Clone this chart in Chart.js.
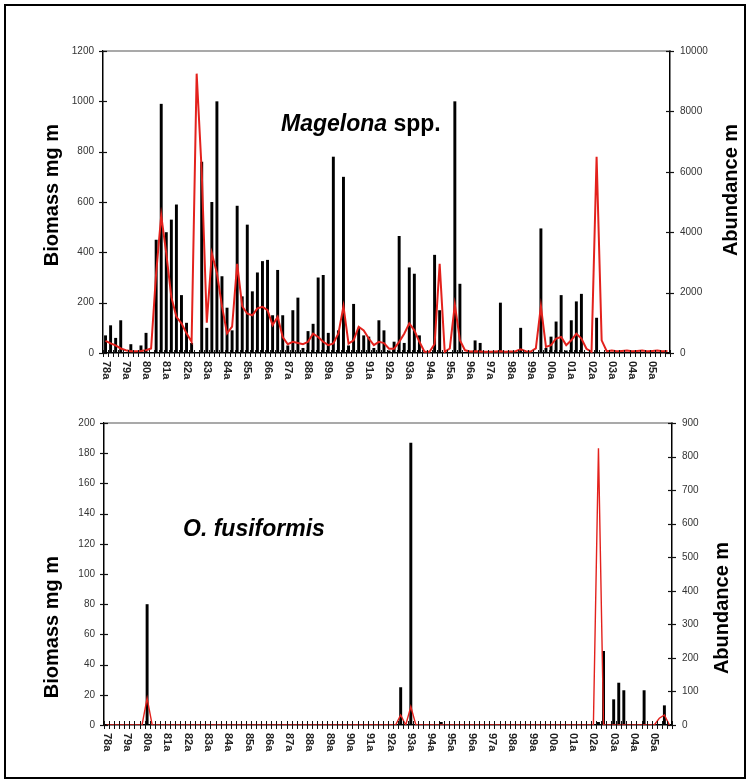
<!DOCTYPE html>
<html><head><meta charset="utf-8">
<script src="https://cdn.jsdelivr.net/npm/chart.js@4.4.0/dist/chart.umd.min.js"></script>
<style>
html,body{margin:0;padding:0;background:#fff;}
#wrap{position:relative;width:750px;height:782px;overflow:hidden;}
#frame{position:absolute;left:4px;top:4px;width:742px;height:775px;border:2px solid #000;box-sizing:border-box;pointer-events:none;}
.box{position:absolute;left:0;width:750px;}
#b1{top:0;height:395px;}
#b2{top:395px;height:387px;}
</style></head>
<body><div id="wrap">
<div class="box" id="b1"><canvas id="c1"></canvas></div>
<div class="box" id="b2"><canvas id="c2"></canvas></div>
<div id="frame"></div>
</div>
<script>
const years = ['78','79','80','81','82','83','84','85','86','87','88','89','90','91','92','93','94','95','96','97','98','99','00','01','02','03','04','05'];
const seasons = ['a','b','c','d'];
const sampleLabels = years.flatMap(y => seasons.map(s => y + s));

const magelonaBiomass = [
  70,110,60,130,0,35,0,30,80,0,
  450,990,480,530,590,230,120,40,0,760,
  100,600,1000,305,180,90,585,225,510,245,
  320,365,370,150,330,150,30,170,220,20,
  87,116,300,310,80,780,90,700,30,195,
  100,70,65,20,130,90,10,45,465,40,
  340,315,70,0,0,390,170,0,0,1000,
  275,0,0,50,40,0,0,0,200,0,
  0,0,100,0,0,0,495,20,65,125,
  230,10,130,205,235,0,0,140,0,0,
  0,0,0,0,0,0,0,0,0,0,
  0,0
];
const magelonaAbundance = [
  400,320,250,150,90,60,55,65,90,150,
  2650,4550,3300,1850,1200,980,650,370,9250,6000,
  1000,3300,2650,1550,650,870,2950,1550,1300,1250,
  1480,1530,1420,920,1200,530,290,370,330,290,
  370,640,530,370,260,320,650,1550,310,420,
  870,750,480,260,370,330,140,140,370,640,
  980,750,370,40,40,300,2950,40,150,1600,
  420,90,50,60,50,40,40,50,60,40,
  50,60,120,60,50,150,1550,200,260,480,
  530,260,420,640,480,140,40,6500,420,60,
  80,60,70,80,60,70,80,60,70,80,
  60,70
];
const fusiformisBiomass = [
  0,0,0,0,0,0,0,0,80,0,
  0,0,0,0,0,0,0,0,0,0,
  0,0,0,0,0,0,0,0,0,0,
  0,0,0,0,0,0,0,0,0,0,
  0,0,0,0,0,0,0,0,0,0,
  0,0,0,0,0,0,0,0,25,0,
  187,0,0,0,0,0,2,0,0,0,
  0,0,0,0,0,0,0,0,0,0,
  0,0,0,0,0,0,0,0,0,0,
  0,0,0,0,0,0,0,2,49,0,
  17,28,23,0,0,0,23,0,0,0,
  13,0
];
const fusiformisAbundance = [
  0,0,0,0,0,0,0,0,80,0,
  0,0,0,0,0,0,0,0,0,0,
  0,0,0,0,0,0,0,0,0,0,
  0,0,0,0,0,0,0,0,0,0,
  0,0,0,0,0,0,0,0,0,0,
  0,0,0,0,0,0,0,0,30,0,
  55,0,0,0,0,0,0,0,0,0,
  0,0,0,0,0,0,0,0,0,0,
  0,0,0,0,0,0,0,0,0,0,
  0,0,0,0,0,0,0,825,0,0,
  0,0,0,0,0,0,0,0,0,20,
  30,0
];
const magBiomassTicks = {min:0, max:1200, step:200};
const magAbundTicks = {min:0, max:10000, step:2000};
const fusBiomassTicks = {min:0, max:200, step:20};
const fusAbundTicks = {min:0, max:900, step:100};

const FONT = '"Liberation Sans", Arial, sans-serif';

function deco(cfg) {
  return {
    id: 'deco_' + cfg.key,
    afterDraw(chart) {
      const {ctx, chartArea: ca, scales} = chart;
      const x = scales.x, yl = scales.y, yr = scales.y1;
      ctx.save();
      ctx.strokeStyle = '#8c8c8c'; ctx.lineWidth = 1.5;
      ctx.beginPath(); ctx.moveTo(ca.left, ca.top); ctx.lineTo(ca.right, ca.top); ctx.stroke();
      ctx.strokeStyle = '#111'; ctx.lineWidth = 1.2;
      yl.ticks.forEach(t => { const py = Math.round(yl.getPixelForValue(t.value)) + 0.5;
        ctx.beginPath(); ctx.moveTo(ca.left - 4, py); ctx.lineTo(ca.left + 4, py); ctx.stroke(); });
      yr.ticks.forEach(t => { const py = Math.round(yr.getPixelForValue(t.value)) + 0.5;
        ctx.beginPath(); ctx.moveTo(ca.right - 4, py); ctx.lineTo(ca.right + 4, py); ctx.stroke(); });
      const n = chart.data.labels.length;
      const step = x.getPixelForValue(1) - x.getPixelForValue(0);
      ctx.lineWidth = 1;
      for (let i = 0; i <= n; i++) {
        const px = Math.round(x.getPixelForValue(0) - step / 2 + i * step) + 0.5;
        ctx.beginPath(); ctx.moveTo(px, ca.bottom - cfg.tickUp); ctx.lineTo(px, ca.bottom + 4); ctx.stroke();
      }
      ctx.fillStyle = '#222'; ctx.font = 'bold 11px ' + FONT;
      ctx.textAlign = 'left'; ctx.textBaseline = 'middle';
      chart.data.labels.forEach((lab, i) => {
        if (i % 4) return;
        const px = x.getPixelForValue(i);
        ctx.save(); ctx.translate(px, ca.bottom + 8); ctx.rotate(Math.PI / 2);
        ctx.fillText(lab, 0, 0); ctx.restore();
      });
      ctx.fillStyle = '#000'; ctx.font = 'bold 20px ' + FONT;
      ctx.textAlign = 'center'; ctx.textBaseline = 'middle';
      ctx.save(); ctx.translate(cfg.leftTitle[0], cfg.leftTitle[1]); ctx.rotate(-Math.PI / 2);
      ctx.fillText('Biomass mg m', 0, 0); ctx.restore();
      ctx.save(); ctx.translate(cfg.rightTitle[0], cfg.rightTitle[1]); ctx.rotate(-Math.PI / 2);
      ctx.fillText('Abundance m', 0, 0); ctx.restore();
      ctx.textAlign = 'left'; ctx.textBaseline = 'alphabetic';
      let tx = cfg.species.x;
      cfg.species.parts.forEach(p => {
        ctx.font = p.font + ' ' + cfg.species.size + 'px ' + FONT;
        ctx.fillText(p.text, tx, cfg.species.y);
        tx += ctx.measureText(p.text).width;
      });
      ctx.restore();
    }
  };
}

function makeChart(canvasId, biomass, abund, bt, at, geo, lineW, decoCfg) {
  const tickFont = { family: FONT, size: 10 };
  return new Chart(document.getElementById(canvasId), {
    data: {
      labels: sampleLabels,
      datasets: [
        { type: 'line', label: 'Abundance', data: abund, yAxisID: 'y1', order: 0,
          borderColor: '#e3211c', borderWidth: lineW, pointRadius: 0, tension: 0, fill: false },
        { type: 'bar', label: 'Biomass', data: biomass, yAxisID: 'y', order: 1,
          backgroundColor: '#000', barPercentage: 0.58, categoryPercentage: 1.0 }
      ]
    },
    options: {
      responsive: true, maintainAspectRatio: false, animation: false,
      layout: { padding: { top: geo.top, left: 0, right: 0, bottom: 0 } },
      plugins: { legend: { display: false }, tooltip: { enabled: false } },
      scales: {
        x: { type: 'category', offset: true,
          grid: { display: false, drawTicks: false }, border: { display: true, color: '#000', width: 1.5 },
          ticks: { display: false, autoSkip: false },
          afterFit: s => { s.height = geo.xh; } },
        y: { position: 'left', min: bt.min, max: bt.max,
          grid: { display: false, drawTicks: false }, border: { display: true, color: '#000', width: 1.5 },
          ticks: { stepSize: bt.step, padding: 9, color: '#333', font: tickFont, callback: v => String(v) },
          afterFit: s => { s.width = geo.left; } },
        y1: { position: 'right', min: at.min, max: at.max,
          grid: { display: false, drawTicks: false }, border: { display: true, color: '#000', width: 1.5 },
          ticks: { stepSize: at.step, padding: 10, color: '#333', font: tickFont, callback: v => String(v) },
          afterFit: s => { s.width = geo.right; } }
      }
    },
    plugins: [deco(decoCfg)]
  });
}

makeChart('c1', magelonaBiomass, magelonaAbundance, magBiomassTicks, magAbundTicks,
  { top: 51, xh: 42, left: 103, right: 80 }, 2,
  { key: 'a', tickUp: 3, leftTitle: [52, 195], rightTitle: [731, 190],
    species: { x: 281, y: 131, size: 23, parts: [{ text: 'Magelona', font: 'italic bold' }, { text: ' spp.', font: 'bold' }] } });

makeChart('c2', fusiformisBiomass, fusiformisAbundance, fusBiomassTicks, fusAbundTicks,
  { top: 28, xh: 57, left: 104, right: 78 }, 1.4,
  { key: 'b', tickUp: 4, leftTitle: [52, 232], rightTitle: [722, 213],
    species: { x: 183, y: 141, size: 23, parts: [{ text: 'O. fusiformis', font: 'italic bold' }] } });
</script>
</body></html>
